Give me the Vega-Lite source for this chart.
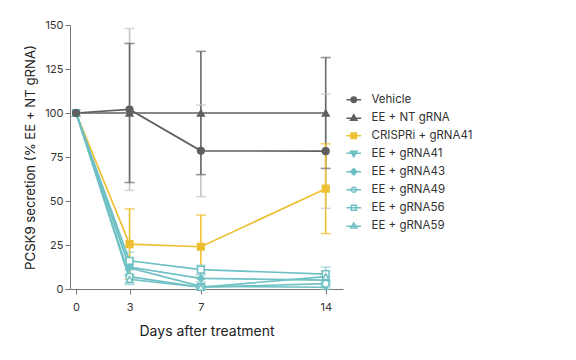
{
  "$schema": "https://vega.github.io/schema/vega-lite/v6.json",
  "width": 273,
  "height": 264,
  "autosize": "none",
  "padding": {"left": 70, "top": 25, "right": 233, "bottom": 71},
  "background": "white",
  "config": {
    "view": {"stroke": null},
    "font": "Inter",
    "axis": {
      "grid": false,
      "domainColor": "#777777",
      "tickColor": "#777777",
      "tickSize": 5,
      "labelColor": "#333333",
      "labelFontSize": 11,
      "titleFontWeight": "normal",
      "titleColor": "#222222"
    }
  },
  "data": {
    "values": [
      {"series": "Vehicle", "day": 0, "value": 100, "lo": 100, "hi": 100},
      {"series": "Vehicle", "day": 3, "value": 102, "lo": 56, "hi": 148},
      {"series": "Vehicle", "day": 7, "value": 78.5, "lo": 52.5, "hi": 104.5},
      {"series": "Vehicle", "day": 14, "value": 78.3, "lo": 45.8, "hi": 110.8},
      {"series": "EE + NT gRNA", "day": 0, "value": 100, "lo": 100, "hi": 100},
      {"series": "EE + NT gRNA", "day": 3, "value": 100, "lo": 60.5, "hi": 139.5},
      {"series": "EE + NT gRNA", "day": 7, "value": 100, "lo": 65, "hi": 135},
      {"series": "EE + NT gRNA", "day": 14, "value": 100, "lo": 68.5, "hi": 131.5},
      {"series": "CRISPRi + gRNA41", "day": 0, "value": 100, "lo": 100, "hi": 100},
      {"series": "CRISPRi + gRNA41", "day": 3, "value": 25.5, "lo": 5.5, "hi": 45.5},
      {"series": "CRISPRi + gRNA41", "day": 7, "value": 24, "lo": 6, "hi": 42},
      {"series": "CRISPRi + gRNA41", "day": 14, "value": 57, "lo": 31.5, "hi": 82.5},
      {"series": "EE + gRNA41", "day": 0, "value": 100, "lo": 100, "hi": 100},
      {"series": "EE + gRNA41", "day": 3, "value": 12, "lo": 8, "hi": 16},
      {"series": "EE + gRNA41", "day": 7, "value": 1.5, "lo": 0.5, "hi": 2.5},
      {"series": "EE + gRNA41", "day": 14, "value": 1, "lo": 0, "hi": 2},
      {"series": "EE + gRNA43", "day": 0, "value": 100, "lo": 100, "hi": 100},
      {"series": "EE + gRNA43", "day": 3, "value": 12.5, "lo": 7.5, "hi": 17.5},
      {"series": "EE + gRNA43", "day": 7, "value": 6, "lo": 4, "hi": 8},
      {"series": "EE + gRNA43", "day": 14, "value": 5, "lo": 3, "hi": 7},
      {"series": "EE + gRNA49", "day": 0, "value": 100, "lo": 100, "hi": 100},
      {"series": "EE + gRNA49", "day": 3, "value": 7, "lo": 3, "hi": 11},
      {"series": "EE + gRNA49", "day": 7, "value": 1, "lo": 0, "hi": 2},
      {"series": "EE + gRNA49", "day": 14, "value": 3, "lo": 1, "hi": 5},
      {"series": "EE + gRNA56", "day": 0, "value": 100, "lo": 100, "hi": 100},
      {"series": "EE + gRNA56", "day": 3, "value": 16, "lo": 11, "hi": 21},
      {"series": "EE + gRNA56", "day": 7, "value": 11, "lo": 8.5, "hi": 13.5},
      {"series": "EE + gRNA56", "day": 14, "value": 8.5, "lo": 4.5, "hi": 12.5},
      {"series": "EE + gRNA59", "day": 0, "value": 100, "lo": 100, "hi": 100},
      {"series": "EE + gRNA59", "day": 3, "value": 5.5, "lo": 2.5, "hi": 8.5},
      {"series": "EE + gRNA59", "day": 7, "value": 1, "lo": 0, "hi": 2},
      {"series": "EE + gRNA59", "day": 14, "value": 7, "lo": 4, "hi": 10}
    ]
  },
  "encoding": {
    "x": {
      "field": "day",
      "type": "quantitative",
      "scale": {"domain": [-0.34, 14.97], "nice": false, "zero": false},
      "axis": {"values": [0, 3, 7, 14], "title": "Days after treatment", "labelPadding": 7, "titlePadding": 12, "titleFontSize": 14}
    },
    "y": {
      "field": "value",
      "type": "quantitative",
      "scale": {"domain": [0, 150], "nice": false},
      "axis": {"values": [0, 25, 50, 75, 100, 125, 150], "title": "PCSK9 secretion (% EE + NT gRNA)", "labelPadding": 2, "titlePadding": 7, "titleFontSize": 13.2}
    }
  },
  "resolve": {"scale": {"color": "independent", "shape": "independent", "fill": "independent", "stroke": "independent"}},
  "layer": [
    {
      "transform": [{"filter": "datum.day > 0"}],
      "mark": {"type": "rule", "strokeWidth": 1.6},
      "encoding": {
        "y": {"field": "lo", "type": "quantitative"},
        "y2": {"field": "hi"},
        "order": {"field": "series", "sort": "descending"},
        "color": {
          "field": "series", "type": "nominal", "legend": null,
          "scale": {
            "domain": ["Vehicle", "EE + NT gRNA", "CRISPRi + gRNA41", "EE + gRNA41", "EE + gRNA43", "EE + gRNA49", "EE + gRNA56", "EE + gRNA59"],
            "range": ["#c6c6c6", "#6a6a6a", "#edbf33", "#9dd3d5", "#9dd3d5", "#9dd3d5", "#9dd3d5", "#9dd3d5"]
          }
        }
      }
    },
    {
      "transform": [{"filter": "datum.day > 0"}],
      "mark": {"type": "tick", "orient": "horizontal", "size": 10, "thickness": 1.6},
      "encoding": {
        "y": {"field": "hi", "type": "quantitative"},
        "order": {"field": "series", "sort": "descending"},
        "color": {
          "field": "series", "type": "nominal", "legend": null,
          "scale": {
            "domain": ["Vehicle", "EE + NT gRNA", "CRISPRi + gRNA41", "EE + gRNA41", "EE + gRNA43", "EE + gRNA49", "EE + gRNA56", "EE + gRNA59"],
            "range": ["#c6c6c6", "#6a6a6a", "#edbf33", "#9dd3d5", "#9dd3d5", "#9dd3d5", "#9dd3d5", "#9dd3d5"]
          }
        }
      }
    },
    {
      "transform": [{"filter": "datum.day > 0"}],
      "mark": {"type": "tick", "orient": "horizontal", "size": 10, "thickness": 1.6},
      "encoding": {
        "y": {"field": "lo", "type": "quantitative"},
        "order": {"field": "series", "sort": "descending"},
        "color": {
          "field": "series", "type": "nominal", "legend": null,
          "scale": {
            "domain": ["Vehicle", "EE + NT gRNA", "CRISPRi + gRNA41", "EE + gRNA41", "EE + gRNA43", "EE + gRNA49", "EE + gRNA56", "EE + gRNA59"],
            "range": ["#c6c6c6", "#6a6a6a", "#edbf33", "#9dd3d5", "#9dd3d5", "#9dd3d5", "#9dd3d5", "#9dd3d5"]
          }
        }
      }
    },
    {
      "mark": {"type": "line", "strokeWidth": 1.7},
      "encoding": {
        "color": {
          "field": "series", "type": "nominal", "legend": null,
          "scale": {
            "domain": ["Vehicle", "EE + NT gRNA", "CRISPRi + gRNA41", "EE + gRNA41", "EE + gRNA43", "EE + gRNA49", "EE + gRNA56", "EE + gRNA59"],
            "range": ["#5f5f5f", "#5f5f5f", "#edbf33", "#6ec0c4", "#6ec0c4", "#6ec0c4", "#6ec0c4", "#6ec0c4"]
          }
        }
      }
    },
    {
      "mark": {"type": "point", "size": 45, "strokeWidth": 1.5, "opacity": 1},
      "encoding": {
        "order": {"field": "series", "sort": "ascending"},
        "shape": {
          "field": "series", "type": "nominal", "legend": null,
          "scale": {
            "domain": ["Vehicle", "EE + NT gRNA", "CRISPRi + gRNA41", "EE + gRNA41", "EE + gRNA43", "EE + gRNA49", "EE + gRNA56", "EE + gRNA59"],
            "range": ["circle", "triangle-up", "square", "triangle-down", "diamond", "circle", "square", "triangle-up"]
          }
        },
        "stroke": {
          "field": "series", "type": "nominal", "legend": null,
          "scale": {
            "domain": ["Vehicle", "EE + NT gRNA", "CRISPRi + gRNA41", "EE + gRNA41", "EE + gRNA43", "EE + gRNA49", "EE + gRNA56", "EE + gRNA59"],
            "range": ["#5f5f5f", "#5f5f5f", "#edbf33", "#6ec0c4", "#6ec0c4", "#6ec0c4", "#6ec0c4", "#6ec0c4"]
          }
        },
        "fill": {
          "field": "series", "type": "nominal", "legend": null,
          "scale": {
            "domain": ["Vehicle", "EE + NT gRNA", "CRISPRi + gRNA41", "EE + gRNA41", "EE + gRNA43", "EE + gRNA49", "EE + gRNA56", "EE + gRNA59"],
            "range": ["#5f5f5f", "#5f5f5f", "#edbf33", "#6ec0c4", "#6ec0c4", "#ffffff", "#ffffff", "#ffffff"]
          }
        }
      }
    },
    {
      "mark": {"type": "point", "size": 45, "strokeWidth": 1.5, "opacity": 0},
      "encoding": {
        "shape": {
          "field": "series", "type": "nominal", "title": null,
          "scale": {
            "domain": ["Vehicle", "EE + NT gRNA", "CRISPRi + gRNA41", "EE + gRNA41", "EE + gRNA43", "EE + gRNA49", "EE + gRNA56", "EE + gRNA59"],
            "range": [
              "M-2.2,0H2.2M0.8,0A0.8,0.8,0,1,1,-0.8,0A0.8,0.8,0,1,1,0.8,0Z",
              "M-2.2,0.15H2.2M0,-0.9L0.95,0.75L-0.95,0.75Z",
              "M-2.2,0H2.2M-0.8,-0.8H0.8V0.8H-0.8Z",
              "M-2.2,-0.15H2.2M0,0.9L0.95,-0.75L-0.95,-0.75Z",
              "M-2.2,0H2.2M0,-0.95L0.95,0L0,0.95L-0.95,0Z",
              "M-2.2,0H2.2M0.75,0A0.75,0.75,0,1,1,-0.75,0A0.75,0.75,0,1,1,0.75,0Z",
              "M-2.2,0H2.2M-0.75,-0.75H0.75V0.75H-0.75Z",
              "M-2.2,0.15H2.2M0,-0.85L0.9,0.7L-0.9,0.7Z"
            ]
          },
          "legend": {
            "orient": "none",
            "legendX": 278,
            "legendY": 69,
            "symbolOpacity": 1,
            "symbolSize": 45,
            "symbolStrokeWidth": 1.5,
            "labelFontSize": 11.5,
            "labelColor": "#333333",
            "labelOffset": 12,
            "rowPadding": 5
          }
        },
        "stroke": {
          "field": "series", "type": "nominal", "title": null,
          "scale": {
            "domain": ["Vehicle", "EE + NT gRNA", "CRISPRi + gRNA41", "EE + gRNA41", "EE + gRNA43", "EE + gRNA49", "EE + gRNA56", "EE + gRNA59"],
            "range": ["#5f5f5f", "#5f5f5f", "#edbf33", "#6ec0c4", "#6ec0c4", "#6ec0c4", "#6ec0c4", "#6ec0c4"]
          }
        },
        "fill": {
          "field": "series", "type": "nominal", "title": null,
          "scale": {
            "domain": ["Vehicle", "EE + NT gRNA", "CRISPRi + gRNA41", "EE + gRNA41", "EE + gRNA43", "EE + gRNA49", "EE + gRNA56", "EE + gRNA59"],
            "range": ["#5f5f5f", "#5f5f5f", "#edbf33", "#6ec0c4", "#6ec0c4", "#ffffff", "#ffffff", "#ffffff"]
          }
        }
      }
    }
  ]
}
